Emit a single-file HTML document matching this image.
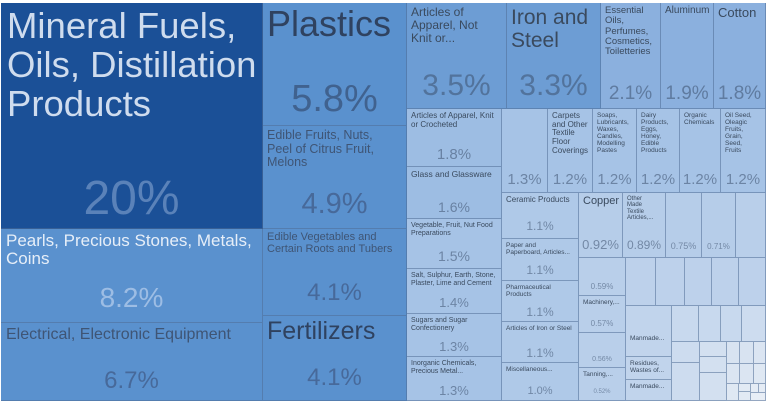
<!DOCTYPE html>
<html><head><meta charset="utf-8"><style>
body{margin:0;width:766px;height:402px;background:#fff;overflow:hidden;font-family:"Liberation Sans",sans-serif;}
.t{position:absolute;box-sizing:border-box;border-right:1px solid rgba(80,110,150,.55);border-bottom:1px solid rgba(80,110,150,.55);overflow:hidden;}
.l{position:absolute;left:4px;top:3px;line-height:1.08;color:#3a4a5e;}
.p{position:absolute;left:0;right:0;text-align:center;color:rgba(60,80,110,.55);}
</style></head><body>
<div style="position:absolute;left:0;top:0;width:766px;height:3px;background:#fff"></div>

<div class="t" style="left:1px;top:3px;width:262px;height:226px;background:#1b5097">
<div class="l" style="font-size:36.5px;color:#cfdcee;left:6px;top:3px;line-height:39px;white-space:nowrap">Mineral Fuels,<br>Oils, Distillation<br>Products</div>
<div class="p" style="top:168px;font-size:48px;color:#5a82b9">20%</div></div>
<div class="t" style="left:1px;top:229px;width:262px;height:94px;background:#5a91ce">
<div class="l" style="font-size:17px;color:#e6eef8;left:5px;top:3px">Pearls, Precious Stones, Metals,<br>Coins</div>
<div class="p" style="top:53px;font-size:28px;color:#9dbde4">8.2%</div></div>
<div class="t" style="left:1px;top:323px;width:262px;height:78px;background:#5a91ce">
<div class="l" style="font-size:16px;color:#3f5575;left:5px;top:3px;white-space:nowrap">Electrical, Electronic Equipment</div>
<div class="p" style="top:44px;font-size:24px;color:#47699a">6.7%</div></div>

<div class="t" style="left:263px;top:3px;width:144px;height:123px;background:#5a91ce">
<div class="l" style="font-size:36px;color:#2f4260;top:2px">Plastics</div>
<div class="p" style="top:75px;font-size:38px;color:#40628f">5.8%</div></div>
<div class="t" style="left:263px;top:126px;width:144px;height:103px;background:#5a91ce">
<div class="l" style="font-size:12.5px;color:#3f5575">Edible Fruits, Nuts,<br>Peel of Citrus Fruit,<br>Melons</div>
<div class="p" style="top:62px;font-size:29px;color:#47699a">4.9%</div></div>
<div class="t" style="left:263px;top:229px;width:144px;height:87px;background:#5a91ce">
<div class="l" style="font-size:11px;color:#3f5575">Edible Vegetables and<br>Certain Roots and Tubers</div>
<div class="p" style="top:50px;font-size:24px;color:#47699a">4.1%</div></div>
<div class="t" style="left:263px;top:316px;width:144px;height:85px;background:#5a91ce">
<div class="l" style="font-size:25px;color:#2f4260;top:2px">Fertilizers</div>
<div class="p" style="top:48px;font-size:24px;color:#47699a">4.1%</div></div>

<div class="t" style="left:407px;top:3px;width:100px;height:106px;background:#6d9dd4">
<div class="l" style="font-size:12px">Articles of<br>Apparel, Not<br>Knit or...</div>
<div class="p" style="top:66px;font-size:30px">3.5%</div></div>
<div class="t" style="left:507px;top:3px;width:94px;height:106px;background:#6d9dd4">
<div class="l" style="font-size:21px;line-height:1.1">Iron and<br>Steel</div>
<div class="p" style="top:66px;font-size:30px">3.3%</div></div>
<div class="t" style="left:601px;top:3px;width:60px;height:106px;background:#8bb0de">
<div class="l" style="font-size:9.5px">Essential<br>Oils,<br>Perfumes,<br>Cosmetics,<br>Toiletteries</div>
<div class="p" style="top:80px;font-size:19px">2.1%</div></div>
<div class="t" style="left:661px;top:3px;width:53px;height:106px;background:#8bb0de">
<div class="l" style="font-size:10px">Aluminum</div>
<div class="p" style="top:80px;font-size:19px">1.9%</div></div>
<div class="t" style="left:714px;top:3px;width:52px;height:106px;background:#8bb0de">
<div class="l" style="font-size:13px">Cotton</div>
<div class="p" style="top:80px;font-size:19px">1.8%</div></div>

<div class="t" style="left:407px;top:109px;width:95px;height:58px;background:#9dbde3">
<div class="l" style="font-size:8px">Articles of Apparel, Knit<br>or Crocheted</div>
<div class="p" style="top:37px;font-size:15px">1.8%</div></div>
<div class="t" style="left:407px;top:167px;width:95px;height:52px;background:#9dbde3">
<div class="l" style="font-size:8.5px">Glass and Glassware</div>
<div class="p" style="top:32px;font-size:14px">1.6%</div></div>
<div class="t" style="left:407px;top:219px;width:95px;height:50px;background:#a6c3e6">
<div class="l" style="font-size:7px">Vegetable, Fruit, Nut Food<br>Preparations</div>
<div class="p" style="top:29px;font-size:14px">1.5%</div></div>
<div class="t" style="left:407px;top:269px;width:95px;height:45px;background:#a6c3e6">
<div class="l" style="font-size:7px">Salt, Sulphur, Earth, Stone,<br>Plaster, Lime and Cement</div>
<div class="p" style="top:26px;font-size:13px">1.4%</div></div>
<div class="t" style="left:407px;top:314px;width:95px;height:43px;background:#a6c3e6">
<div class="l" style="font-size:7px">Sugars and Sugar<br>Confectionery</div>
<div class="p" style="top:25px;font-size:13px">1.3%</div></div>
<div class="t" style="left:407px;top:357px;width:95px;height:44px;background:#a6c3e6">
<div class="l" style="font-size:7px">Inorganic Chemicals,<br>Precious Metal...</div>
<div class="p" style="top:26px;font-size:13px">1.3%</div></div>

<div class="t" style="left:502px;top:109px;width:46px;height:84px;background:#a6c3e6">
<div class="p" style="top:62px;font-size:15px">1.3%</div></div>
<div class="t" style="left:548px;top:109px;width:45px;height:84px;background:#a6c3e6">
<div class="l" style="font-size:8px">Carpets<br>and Other<br>Textile<br>Floor<br>Coverings</div>
<div class="p" style="top:62px;font-size:15px">1.2%</div></div>
<div class="t" style="left:593px;top:109px;width:44px;height:84px;background:#a6c3e6">
<div class="l" style="font-size:6.5px">Soaps,<br>Lubricants,<br>Waxes,<br>Candles,<br>Modelling<br>Pastes</div>
<div class="p" style="top:62px;font-size:15px">1.2%</div></div>
<div class="t" style="left:637px;top:109px;width:43px;height:84px;background:#a6c3e6">
<div class="l" style="font-size:6.5px">Dairy<br>Products,<br>Eggs,<br>Honey,<br>Edible<br>Products</div>
<div class="p" style="top:62px;font-size:15px">1.2%</div></div>
<div class="t" style="left:680px;top:109px;width:41px;height:84px;background:#a6c3e6">
<div class="l" style="font-size:6.5px">Organic<br>Chemicals</div>
<div class="p" style="top:62px;font-size:15px">1.2%</div></div>
<div class="t" style="left:721px;top:109px;width:45px;height:84px;background:#a6c3e6">
<div class="l" style="font-size:6.5px">Oil Seed,<br>Oleagic<br>Fruits,<br>Grain,<br>Seed,<br>Fruits</div>
<div class="p" style="top:62px;font-size:15px">1.2%</div></div>

<div class="t" style="left:502px;top:193px;width:77px;height:46px;background:#afc9e8">
<div class="l" style="font-size:8px">Ceramic Products</div>
<div class="p" style="top:26px;font-size:12px">1.1%</div></div>
<div class="t" style="left:502px;top:239px;width:77px;height:42px;background:#afc9e8">
<div class="l" style="font-size:6.5px">Paper and<br>Paperboard, Articles...</div>
<div class="p" style="top:24px;font-size:12px">1.1%</div></div>
<div class="t" style="left:502px;top:281px;width:77px;height:41px;background:#afc9e8">
<div class="l" style="font-size:6.5px">Pharmaceutical<br>Products</div>
<div class="p" style="top:24px;font-size:12px">1.1%</div></div>
<div class="t" style="left:502px;top:322px;width:77px;height:41px;background:#afc9e8">
<div class="l" style="font-size:6.5px">Articles of Iron or Steel</div>
<div class="p" style="top:24px;font-size:12px">1.1%</div></div>
<div class="t" style="left:502px;top:363px;width:77px;height:38px;background:#afc9e8">
<div class="l" style="font-size:6.5px">Miscellaneous...</div>
<div class="p" style="top:22px;font-size:11px">1.0%</div></div>

<div class="t" style="left:579px;top:193px;width:44px;height:65px;background:#b6cde9">
<div class="l" style="font-size:11px">Copper</div>
<div class="p" style="top:44px;font-size:13px">0.92%</div></div>
<div class="t" style="left:623px;top:193px;width:43px;height:65px;background:#b6cde9">
<div class="l" style="font-size:6px">Other<br>Made<br>Textile<br>Articles,...</div>
<div class="p" style="top:45px;font-size:12px">0.89%</div></div>
<div class="t" style="left:666px;top:193px;width:36px;height:65px;background:#b6cde9">
<div class="p" style="top:48px;font-size:9px">0.75%</div></div>
<div class="t" style="left:702px;top:193px;width:34px;height:65px;background:#b6cde9">
<div class="p" style="top:49px;font-size:8px">0.71%</div></div>
<div class="t" style="left:736px;top:193px;width:30px;height:65px;background:#b9cfea"></div>

<div class="t" style="left:579px;top:258px;width:47px;height:38px;background:#b9cfea">
<div class="p" style="top:24px;font-size:8px">0.59%</div></div>
<div class="t" style="left:579px;top:296px;width:47px;height:37px;background:#b9cfea">
<div class="l" style="font-size:6.5px">Machinery,...</div>
<div class="p" style="top:23px;font-size:8px">0.57%</div></div>
<div class="t" style="left:579px;top:333px;width:47px;height:35px;background:#b9cfea">
<div class="p" style="top:23px;font-size:7px">0.56%</div></div>
<div class="t" style="left:579px;top:368px;width:47px;height:33px;background:#b9cfea">
<div class="l" style="font-size:6.5px">Tanning,...</div>
<div class="p" style="top:21px;font-size:6px">0.52%</div></div>

<div class="t" style="left:626px;top:258px;width:30px;height:48px;background:#bdd1eb"></div>
<div class="t" style="left:656px;top:258px;width:29px;height:48px;background:#bdd1eb"></div>
<div class="t" style="left:685px;top:258px;width:27px;height:48px;background:#bdd1eb"></div>
<div class="t" style="left:712px;top:258px;width:27px;height:48px;background:#bdd1eb"></div>
<div class="t" style="left:739px;top:258px;width:27px;height:48px;background:#bdd1eb"></div>

<div class="t" style="left:626px;top:306px;width:46px;height:51px;background:#c1d4ec">
<div class="l" style="font-size:6.5px;top:29px">Manmade...</div></div>
<div class="t" style="left:626px;top:357px;width:46px;height:23px;background:#c1d4ec">
<div class="l" style="font-size:6.5px">Residues,<br>Wastes of...</div></div>
<div class="t" style="left:626px;top:380px;width:46px;height:21px;background:#c1d4ec">
<div class="l" style="font-size:6.5px">Manmade...</div></div>

<div class="t" style="left:672px;top:306px;width:27px;height:36px;background:#c8d9ee"></div>
<div class="t" style="left:699px;top:306px;width:22px;height:36px;background:#c8d9ee"></div>
<div class="t" style="left:721px;top:306px;width:21px;height:36px;background:#c8d9ee"></div>
<div class="t" style="left:742px;top:306px;width:24px;height:36px;background:#cddcef"></div>
<div class="t" style="left:672px;top:342px;width:28px;height:21px;background:#cddcef"></div>
<div class="t" style="left:672px;top:363px;width:28px;height:38px;background:#cddcef"></div>
<div class="t" style="left:700px;top:342px;width:27px;height:15px;background:#d3e0f0"></div>
<div class="t" style="left:700px;top:357px;width:27px;height:16px;background:#d3e0f0"></div>
<div class="t" style="left:700px;top:373px;width:27px;height:28px;background:#d3e0f0"></div>
<div class="t" style="left:727px;top:342px;width:13px;height:22px;background:#d8e3f1"></div>
<div class="t" style="left:740px;top:342px;width:14px;height:22px;background:#d8e3f1"></div>
<div class="t" style="left:754px;top:342px;width:12px;height:22px;background:#dbe5f2"></div>
<div class="t" style="left:727px;top:364px;width:13px;height:20px;background:#dbe5f2"></div>
<div class="t" style="left:740px;top:364px;width:14px;height:20px;background:#dbe5f2"></div>
<div class="t" style="left:754px;top:364px;width:12px;height:20px;background:#dfe8f3"></div>
<div class="t" style="left:727px;top:384px;width:12px;height:17px;background:#dfe8f3"></div>
<div class="t" style="left:739px;top:384px;width:12px;height:8px;background:#e2eaf4"></div>
<div class="t" style="left:739px;top:392px;width:12px;height:9px;background:#e2eaf4"></div>
<div class="t" style="left:751px;top:384px;width:8px;height:9px;background:#e5ecf5"></div>
<div class="t" style="left:759px;top:384px;width:7px;height:9px;background:#e5ecf5"></div>
<div class="t" style="left:751px;top:393px;width:15px;height:8px;background:#e8eef6"></div>
</body></html>
